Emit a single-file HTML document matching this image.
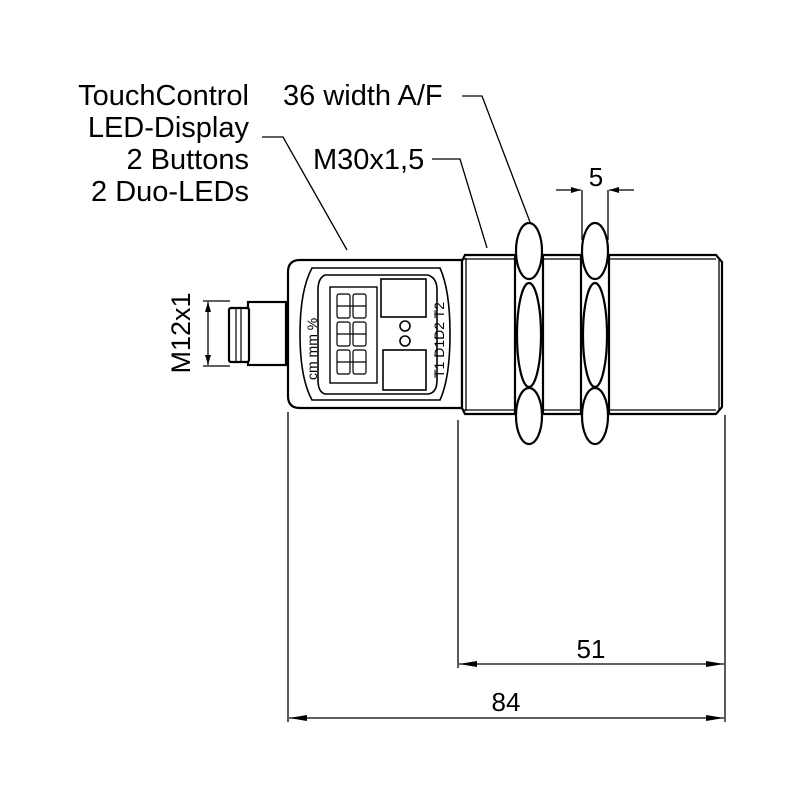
<!DOCTYPE html>
<html><head><style>body{margin:0;background:#fff}svg{display:block}text{font-family:"Liberation Sans",sans-serif;fill:#000}</style></head>
<body>
<svg width="800" height="800" viewBox="0 0 800 800" xmlns="http://www.w3.org/2000/svg">
<defs><marker id="a" viewBox="0 0 10 6" refX="10" refY="3" markerWidth="10" markerHeight="6" orient="auto-start-reverse" markerUnits="userSpaceOnUse"><path d="M0,0L10,3L0,6Z"/></marker>
<marker id="b" viewBox="0 0 18 6" refX="18" refY="3" markerWidth="18" markerHeight="6" orient="auto-start-reverse" markerUnits="userSpaceOnUse"><path d="M0,0L18,3L0,6Z"/></marker></defs>
<g font-size="29" text-anchor="end">
<text x="249" y="105">TouchControl</text>
<text x="249" y="137">LED-Display</text>
<text x="249" y="169">2 Buttons</text>
<text x="249" y="201">2 Duo-LEDs</text>
</g>
<text x="283" y="105" font-size="29">36 width A/F</text>
<text x="313" y="169" font-size="29">M30x1,5</text>
<text x="596" y="186" font-size="26" text-anchor="middle">5</text>
<text x="591" y="658" font-size="26" text-anchor="middle">51</text>
<text x="506" y="711" font-size="26" text-anchor="middle">84</text>
<text transform="translate(190,333) rotate(-90)" font-size="27" text-anchor="middle">M12x1</text>
<g fill="none" stroke="#000" stroke-width="1.3">
<polyline points="462,96 482,96 530,222"/>
<polyline points="432,159 460,159 487,248"/>
<polyline points="262,137 283,137 347,250"/>
<line x1="288" y1="412" x2="288" y2="722"/>
<line x1="458" y1="420" x2="458" y2="668"/>
<line x1="725" y1="415" x2="725" y2="722"/>
<line x1="289" y1="718" x2="724" y2="718" marker-start="url(#b)" marker-end="url(#b)"/>
<line x1="459" y1="664" x2="724" y2="664" marker-start="url(#b)" marker-end="url(#b)"/>
<line x1="582" y1="190" x2="582" y2="240"/>
<line x1="608" y1="190" x2="608" y2="240"/>
<line x1="556" y1="190" x2="581" y2="190" marker-end="url(#a)"/>
<line x1="634" y1="190" x2="609" y2="190" marker-end="url(#a)"/>
<line x1="203" y1="301" x2="230" y2="301"/>
<line x1="203" y1="366" x2="230" y2="366"/>
<line x1="208" y1="302" x2="208" y2="365" marker-start="url(#a)" marker-end="url(#a)"/>
</g>
<g fill="#fff" stroke="#000" stroke-width="2.2">
<rect x="248" y="302" width="38" height="63"/>
<rect x="229" y="308" width="20" height="54" rx="2"/>
<line x1="236" y1="309" x2="236" y2="361" stroke-width="1.2"/>
<line x1="241" y1="309" x2="241" y2="361" stroke-width="1.2"/>
<path d="M300,260 H462 V408 H300 Q288,408 288,396 V272 Q288,260 300,260Z"/>
<path d="M312,268 H440 Q450,290 450,334 Q450,378 440,400 H312 Q300,378 300,334 Q300,290 312,268Z" stroke-width="1.6"/>
<path d="M325,275 H428 Q437,278 437,290 V380 Q437,393 428,394 H325 Q318,392 318,380 V290 Q318,278 325,275Z" stroke-width="1.6"/>
<rect x="330" y="287" width="47" height="96" stroke-width="1.4"/>
<rect x="381" y="279" width="45" height="38" stroke-width="1.6"/>
<rect x="383" y="350" width="43" height="40" stroke-width="1.6"/>
<circle cx="405" cy="326" r="5" stroke-width="1.6"/>
<circle cx="405" cy="341" r="5" stroke-width="1.6"/>
</g>
<g fill="none" stroke="#000" stroke-width="1.2">
<rect x="337" y="294" width="13" height="24" rx="2"/><rect x="353" y="294" width="13" height="24" rx="2"/>
<line x1="337" y1="306" x2="366" y2="306"/>
<rect x="337" y="322" width="13" height="24" rx="2"/><rect x="353" y="322" width="13" height="24" rx="2"/>
<line x1="337" y1="334" x2="366" y2="334"/>
<rect x="337" y="350" width="13" height="24" rx="2"/><rect x="353" y="350" width="13" height="24" rx="2"/>
<line x1="337" y1="362" x2="366" y2="362"/>
</g>
<g font-size="14">
<text transform="translate(317,380) rotate(-90)">cm  mm  %</text>
<text transform="translate(444,378) rotate(-90)">T1 D1D2 T2</text>
</g>
<g fill="#fff" stroke="#000" stroke-width="2.2">
<path d="M465,255 H716 L722,262 V407 L716,414 H465 L462,408 V261Z"/>
<line x1="466" y1="258" x2="466" y2="411" stroke-width="1.3"/>
<line x1="462" y1="259" x2="716" y2="259" stroke-width="1.3"/>
<line x1="462" y1="410" x2="716" y2="410" stroke-width="1.3"/>
<line x1="719" y1="260" x2="719" y2="410" stroke-width="1.3"/>
<rect x="515" y="254" width="28" height="160" stroke="none"/>
<line x1="515" y1="254" x2="515" y2="414"/><line x1="543" y1="254" x2="543" y2="414"/>
<ellipse cx="529" cy="335" rx="12" ry="52"/>
<ellipse cx="529" cy="251" rx="13" ry="28"/>
<ellipse cx="529" cy="416" rx="13" ry="28"/>
<rect x="581" y="254" width="28" height="160" stroke="none"/>
<line x1="581" y1="254" x2="581" y2="414"/><line x1="609" y1="254" x2="609" y2="414"/>
<ellipse cx="595" cy="335" rx="12" ry="52"/>
<ellipse cx="595" cy="251" rx="13" ry="28"/>
<ellipse cx="595" cy="416" rx="13" ry="28"/>
</g>
</svg>
</body></html>
